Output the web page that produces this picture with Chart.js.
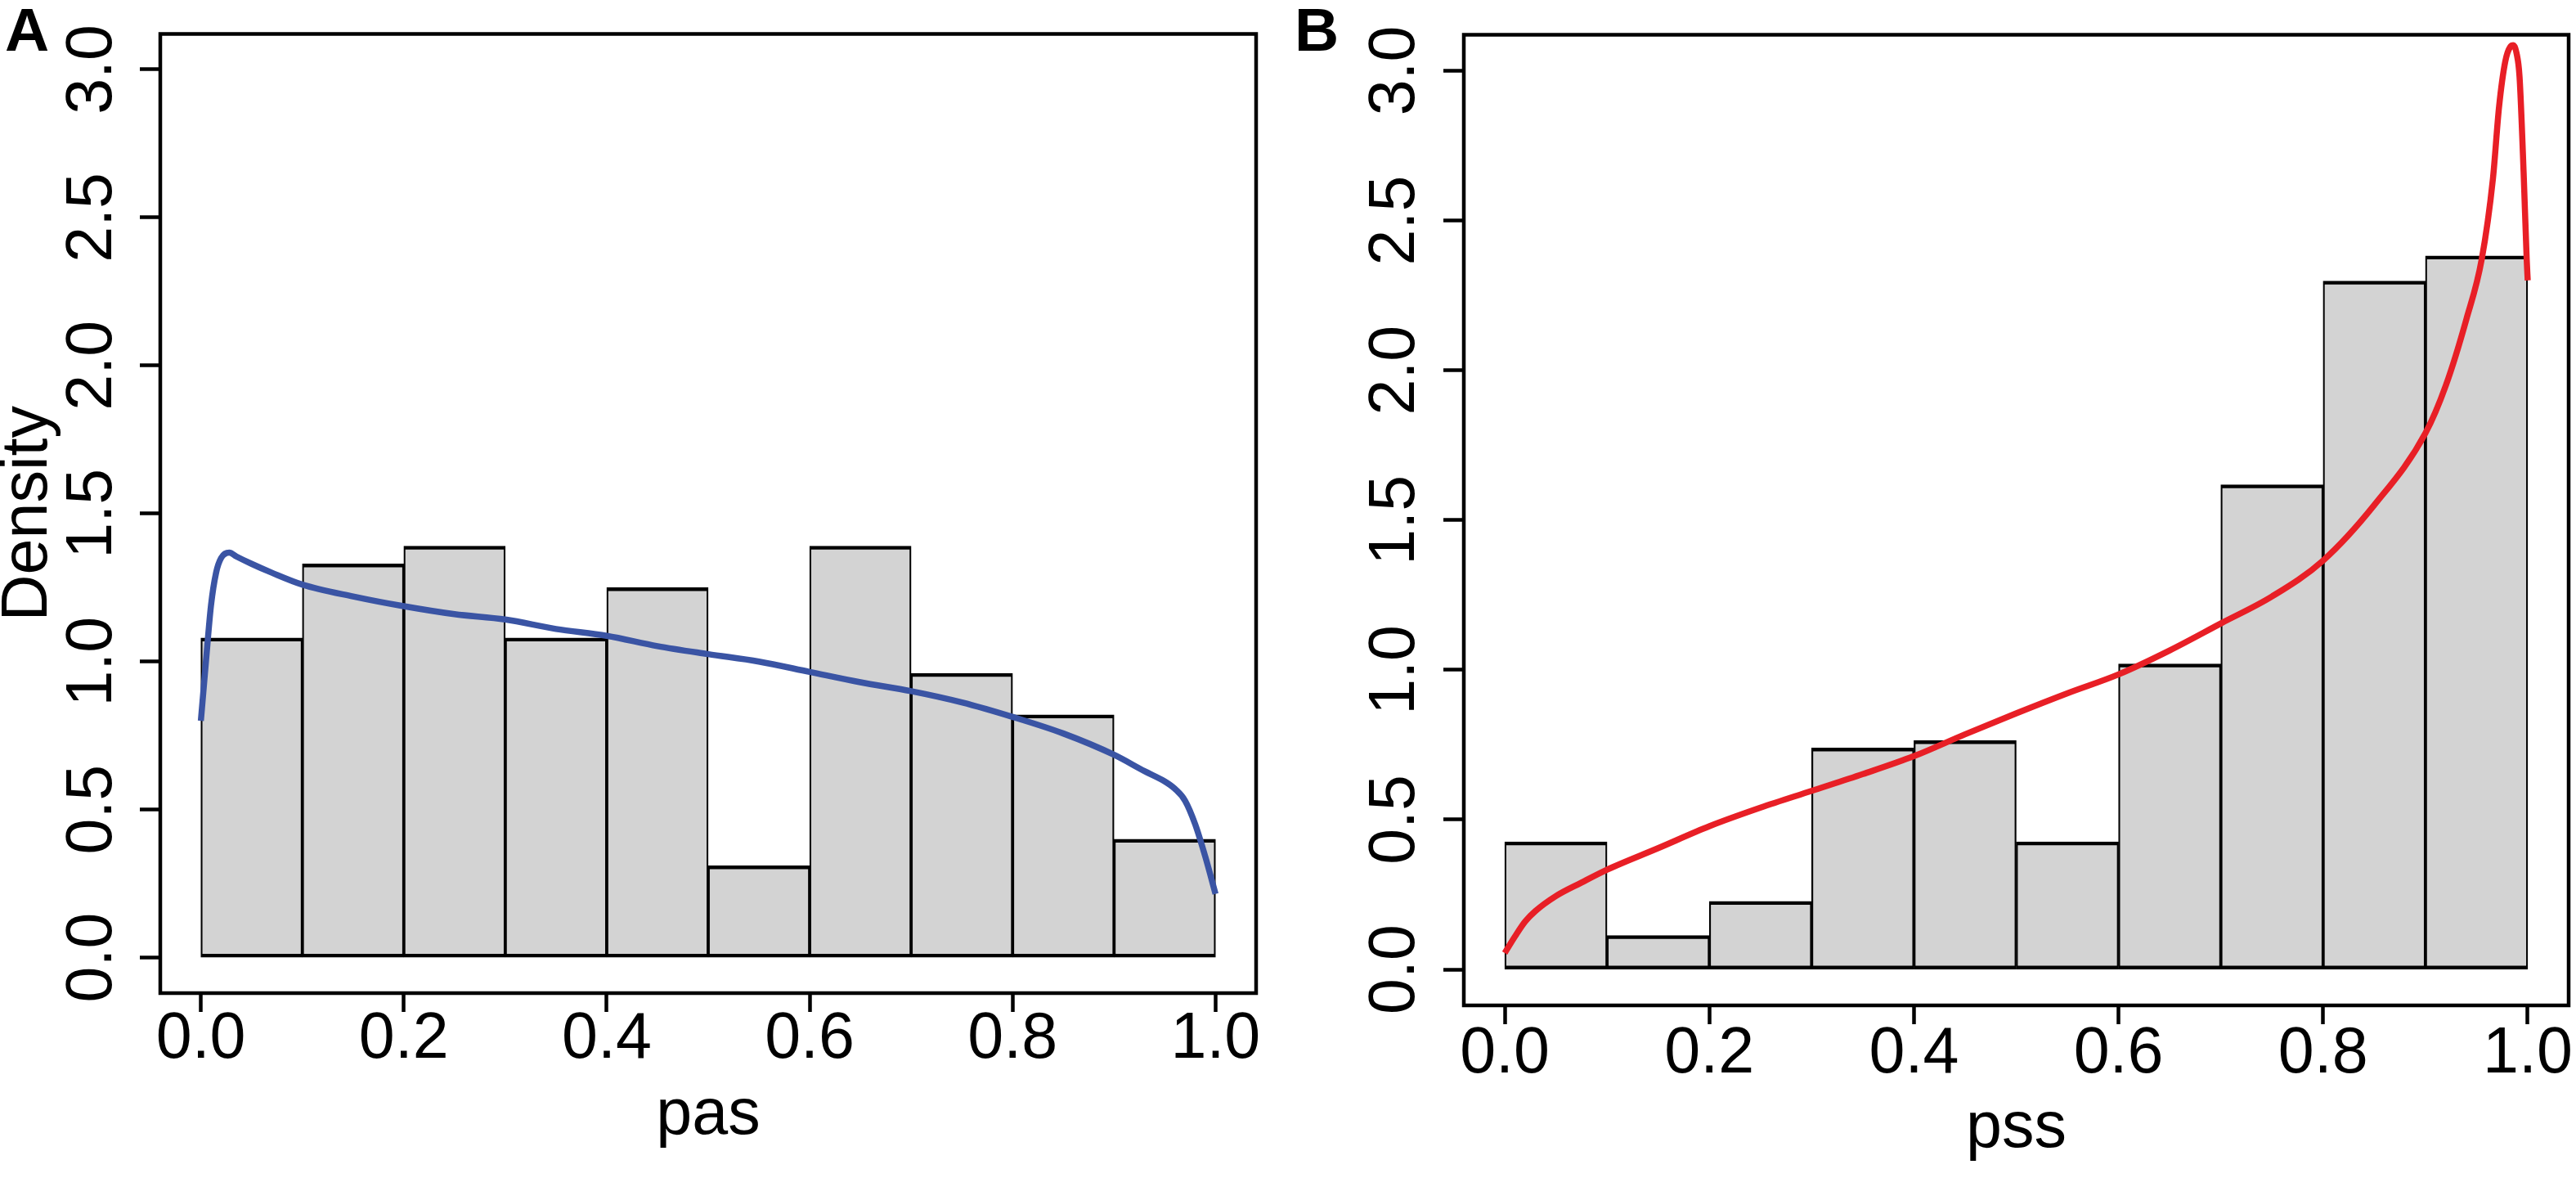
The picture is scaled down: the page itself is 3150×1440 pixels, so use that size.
<!DOCTYPE html>
<html>
<head>
<meta charset="utf-8">
<title>pas / pss density histograms</title>
<script src="https://cdn.jsdelivr.net/npm/chart.js@4.4.1/dist/chart.umd.min.js"></script>
<style>
  html, body { margin: 0; padding: 0; background: #fff; }
  .panel { position: absolute; top: 0; width: 1575px; height: 1440px; }
  #panelA { left: 0; }
  #panelB { left: 1575px; }
</style>
</head>
<body>
<div class="panel" id="panelA"><canvas id="chartA"></canvas></div>
<div class="panel" id="panelB"><canvas id="chartB"></canvas></div>
<script>
// histogram bins (width 0.1), given by their mid points
var binMids = [0.05, 0.15, 0.25, 0.35, 0.45, 0.55, 0.65, 0.75, 0.85, 0.95];
var pasDensity = [1.08, 1.33, 1.39, 1.08, 1.25, 0.31, 1.39, 0.96, 0.82, 0.40];
var pssDensity = [0.426, 0.113, 0.227, 0.739, 0.764, 0.426, 1.02, 1.618, 2.298, 2.382];

// kernel density curves
var pasCurveX = [0, 0.005, 0.01, 0.015, 0.02, 0.028, 0.035, 0.05, 0.07, 0.1, 0.15, 0.2, 0.25, 0.3, 0.35,
                 0.4, 0.45, 0.5, 0.55, 0.6, 0.65, 0.7, 0.75, 0.8, 0.85, 0.9, 0.93, 0.95, 0.96, 0.97,
                 0.98, 0.99, 1.0];
var pasCurveY = [0.80, 1.00, 1.19, 1.30, 1.35, 1.368, 1.355, 1.33, 1.30, 1.26, 1.22, 1.187, 1.16, 1.142, 1.11,
                 1.087, 1.052, 1.025, 1.0, 0.965, 0.93, 0.90, 0.862, 0.813, 0.757, 0.685, 0.63, 0.595, 0.57, 0.53,
                 0.45, 0.34, 0.215];
var pssCurveX = [0, 0.01, 0.02, 0.03, 0.05, 0.075, 0.1, 0.15, 0.2, 0.25, 0.3, 0.35, 0.4, 0.45, 0.5,
                 0.55, 0.6, 0.65, 0.7, 0.75, 0.8, 0.85, 0.9, 0.92, 0.94, 0.955, 0.966, 0.972, 0.978, 0.983,
                 0.986, 0.989, 0.992, 0.996, 0.999, 1.0];
var pssCurveY = [0.055, 0.11, 0.16, 0.195, 0.245, 0.29, 0.333, 0.405, 0.478, 0.54, 0.596, 0.652, 0.712, 0.785, 0.855,
                 0.922, 0.985, 1.065, 1.155, 1.245, 1.365, 1.55, 1.79, 1.95, 2.17, 2.37, 2.64, 2.88, 3.03, 3.08,
                 3.085, 3.06, 2.98, 2.66, 2.37, 2.30];

var xTicks = [0, 0.2, 0.4, 0.6, 0.8, 1.0];
var yTicks = [0, 0.5, 1.0, 1.5, 2.0, 2.5, 3.0];

var FONT = '"Liberation Sans", Arial, Helvetica, sans-serif';
Chart.defaults.color = '#000';
Chart.defaults.font.family = FONT;

var toPoints = function(xs, ys) {
    return xs.map(function(x, i) { return {x: x, y: ys[i]}; });
};

// box round the plot area and the panel letter
var framePlugin = {
    id: 'frame',
    afterDraw: function(chart, args, opts) {
        var ctx = chart.ctx;
        var a = chart.chartArea;
        ctx.save();
        ctx.lineWidth = 4.5;
        ctx.strokeStyle = '#000';
        ctx.strokeRect(a.left, a.top, a.right - a.left, a.bottom - a.top);
        ctx.fillStyle = '#000';
        ctx.font = 'bold 75px ' + FONT;
        ctx.textBaseline = 'alphabetic';
        ctx.fillText(opts.letter, opts.letterX, 62);
        ctx.restore();
    }
};

var loadHistogram = function(canvasId, p) {
    return new Chart(document.getElementById(canvasId), {
        type: 'bar',
        data: {
            datasets: [
                {
                    type: 'line',
                    data: toPoints(p.curveX, p.curveY),
                    borderColor: p.lineColor,
                    borderWidth: 7.5,
                    pointRadius: 0,
                    cubicInterpolationMode: 'monotone',
                    fill: false,
                    order: 0
                },
                {
                    type: 'bar',
                    data: toPoints(binMids, p.density),
                    backgroundColor: '#d3d3d3',
                    borderColor: '#000',
                    borderWidth: {top: 4.5, bottom: 4.5, left: 2.25, right: 2.25},
                    borderSkipped: false,
                    barPercentage: 1,
                    categoryPercentage: 1,
                    order: 1
                }
            ]
        },
        options: {
            responsive: true,
            maintainAspectRatio: false,
            animation: false,
            events: [],
            layout: {padding: {left: 0, top: p.top, right: p.right, bottom: 0}},
            plugins: {
                legend: {display: false},
                tooltip: {enabled: false},
                frame: {letter: p.letter, letterX: p.letterX}
            },
            scales: {
                x: {
                    type: 'linear',
                    min: -0.04,
                    max: 1.04,
                    offset: false,
                    afterBuildTicks: function(s) { s.ticks = xTicks.map(function(v) { return {value: v}; }); },
                    afterFit: function(s) { s.height = p.xAxisHeight; },
                    border: {display: false},
                    grid: {offset: false, drawOnChartArea: false, drawTicks: true, tickLength: 23, tickWidth: 4.5, tickColor: '#000'},
                    ticks: {
                        autoSkip: false,
                        maxRotation: 0,
                        padding: p.xTickPad,
                        font: {size: 79, lineHeight: 1},
                        callback: function(v) { return v.toFixed(1); }
                    },
                    title: {display: true, text: p.xTitle, font: {size: 79, lineHeight: 1}, padding: {top: 0, bottom: p.xTitlePad}}
                },
                y: {
                    type: 'linear',
                    min: -0.12,
                    max: 3.12,
                    afterBuildTicks: function(s) { s.ticks = yTicks.map(function(v) { return {value: v}; }); },
                    afterFit: function(s) { s.width = p.yAxisWidth; },
                    border: {display: false},
                    grid: {drawOnChartArea: false, drawTicks: true, tickLength: 25, tickWidth: 4.5, tickColor: '#000'},
                    ticks: {
                        autoSkip: false,
                        minRotation: 90,
                        maxRotation: 90,
                        crossAlign: 'center',
                        padding: p.yTickPad,
                        font: {size: 79, lineHeight: 1},
                        callback: function(v) { return v.toFixed(1); }
                    },
                    title: {display: p.yTitle !== '', text: p.yTitle, font: {size: 79, lineHeight: 0.9}, padding: 0}
                }
            }
        },
        plugins: [framePlugin]
    });
};

loadHistogram('chartA', {
    density: pasDensity, curveX: pasCurveX, curveY: pasCurveY,
    lineColor: '#3a54a4', xTitle: 'pas', yTitle: 'Density',
    letter: 'A', letterX: 6,
    top: 14, right: 39, xAxisHeight: 226, yAxisWidth: 196,
    xTickPad: -5, xTitlePad: 36, yTickPad: 2
});

loadHistogram('chartB', {
    density: pssDensity, curveX: pssCurveX, curveY: pssCurveY,
    lineColor: '#e81f26', xTitle: 'pss', yTitle: '',
    letter: 'B', letterX: 8,
    top: 20, right: 9, xAxisHeight: 211, yAxisWidth: 215,
    xTickPad: -2, xTitlePad: 20, yTickPad: 3
});
</script>
</body>
</html>
